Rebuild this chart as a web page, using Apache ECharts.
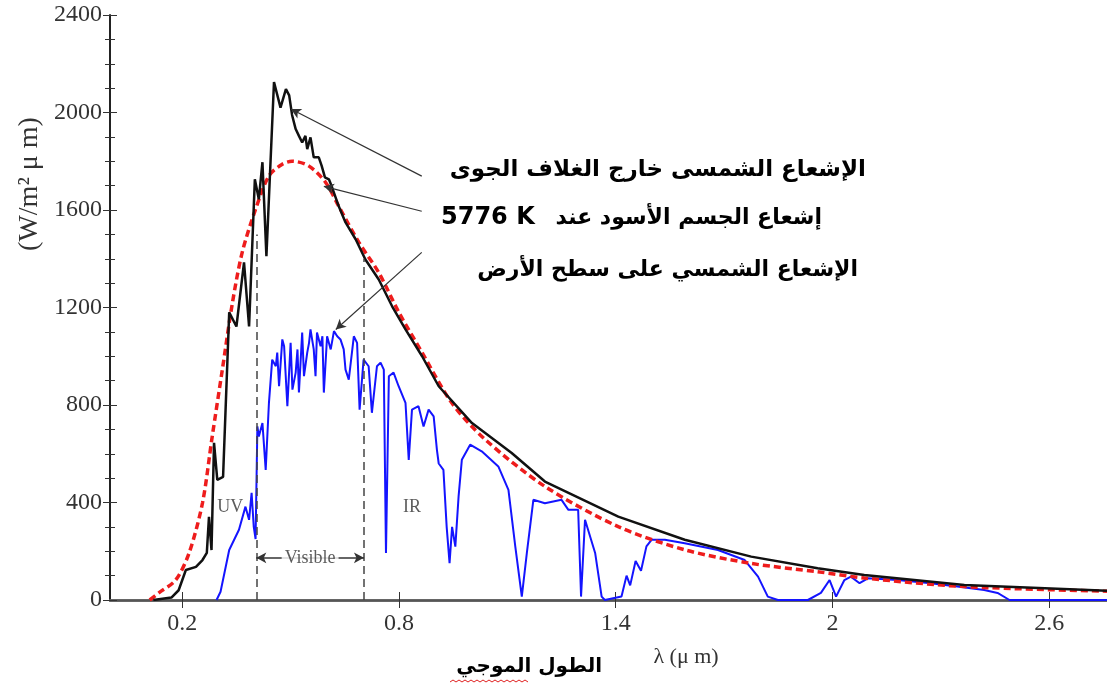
<!DOCTYPE html>
<html>
<head>
<meta charset="utf-8">
<script src="https://cdn.jsdelivr.net/npm/echarts@6/dist/echarts.min.js"></script>
<style>
  html, body { margin: 0; padding: 0; background: #fff; }
  #myChart { width: 1107px; height: 684px; }
</style>
</head>
<body>
<div id="myChart"></div>
<script>
// tick labels
var xTicks = [0.2, 0.8, 1.4, 2, 2.6];

// solar irradiance outside the atmosphere [λ µm, W/m² µm]
var extraterrestrial = [
  [0.12, 0], [0.17, 10], [0.19, 40], [0.21, 123], [0.238, 136], [0.256, 164], [0.268, 193],
  [0.274, 341], [0.281, 205], [0.288, 645], [0.297, 493], [0.313, 505], [0.33, 1180],
  [0.35, 1122], [0.371, 1385], [0.385, 1122], [0.401, 1726], [0.412, 1644], [0.422, 1796],
  [0.433, 1410], [0.454, 2125], [0.472, 2020], [0.487, 2096], [0.496, 2070], [0.504, 1990],
  [0.514, 1932], [0.523, 1904], [0.532, 1877], [0.541, 1904], [0.546, 1850], [0.555, 1898],
  [0.564, 1816], [0.578, 1816], [0.586, 1781], [0.595, 1734], [0.606, 1726], [0.615, 1692],
  [0.633, 1616], [0.652, 1549], [0.68, 1480], [0.707, 1397], [0.744, 1315], [0.781, 1205],
  [0.818, 1110], [0.864, 1000], [0.91, 877], [1.002, 726], [1.112, 603], [1.204, 486],
  [1.407, 342], [1.591, 247], [1.775, 178], [1.959, 130], [2.088, 103], [2.365, 62], [2.76, 38]
];

// black body at 5776 K
var blackbody = [
  [0.11, 0], [0.136, 30], [0.182, 82], [0.219, 193], [0.256, 398], [0.283, 671], [0.311, 945],
  [0.339, 1220], [0.366, 1426], [0.403, 1603], [0.44, 1740], [0.477, 1788], [0.504, 1800],
  [0.55, 1781], [0.597, 1713], [0.633, 1616], [0.689, 1467], [0.744, 1343], [0.8, 1179],
  [0.864, 1015], [0.946, 809], [1.039, 658], [1.204, 466], [1.407, 301], [1.591, 206],
  [1.775, 150], [1.959, 116], [2.088, 90], [2.365, 55], [2.76, 36]
];

// solar irradiance at the surface
var surface = [
  [0.295, 0], [0.306, 34], [0.33, 205], [0.357, 288], [0.375, 383], [0.385, 329], [0.392, 440],
  [0.398, 300], [0.403, 250], [0.408, 712], [0.412, 671], [0.422, 726], [0.431, 534],
  [0.44, 809], [0.449, 986], [0.459, 959], [0.463, 1015], [0.468, 877], [0.477, 1069],
  [0.482, 1041], [0.491, 795], [0.5, 1055], [0.505, 863], [0.514, 933], [0.519, 1028],
  [0.523, 851], [0.532, 1097], [0.537, 918], [0.546, 1015], [0.551, 1055], [0.555, 1110],
  [0.564, 1028], [0.569, 918], [0.573, 1097], [0.583, 1041], [0.588, 1082], [0.592, 851],
  [0.601, 1082], [0.611, 1028], [0.62, 1103], [0.629, 1082], [0.638, 1069], [0.647, 1028],
  [0.652, 945], [0.661, 904], [0.675, 1082], [0.684, 1055], [0.691, 781], [0.702, 986],
  [0.716, 959], [0.725, 768], [0.739, 959], [0.749, 974], [0.758, 945], [0.764, 193],
  [0.772, 918], [0.785, 933], [0.799, 877], [0.818, 809], [0.827, 575], [0.836, 781],
  [0.854, 795], [0.868, 712], [0.882, 781], [0.896, 753], [0.905, 616], [0.91, 560],
  [0.923, 534], [0.932, 300], [0.94, 151], [0.947, 300], [0.956, 219], [0.965, 425],
  [0.974, 575], [0.997, 637], [1.029, 610], [1.075, 548], [1.103, 452], [1.122, 219],
  [1.14, 14], [1.154, 193], [1.172, 411], [1.204, 397], [1.25, 411], [1.269, 370],
  [1.296, 370], [1.304, 14], [1.315, 329], [1.343, 193], [1.361, 14], [1.37, 0], [1.416, 14],
  [1.43, 100], [1.44, 60], [1.455, 160], [1.47, 120], [1.485, 220], [1.499, 247],
  [1.536, 247], [1.591, 233], [1.683, 205], [1.757, 164], [1.794, 96], [1.821, 14],
  [1.849, 0], [1.932, 0], [1.968, 29], [1.992, 82], [2.01, 14], [2.033, 82], [2.051, 96],
  [2.075, 69], [2.098, 89], [2.18, 82], [2.272, 69], [2.346, 55], [2.42, 41], [2.457, 29],
  [2.49, 0], [2.76, 0]
];

// visible band limits
var visibleBand = [0.405, 0.703];

var serif = 'Liberation Serif';

var myChart = echarts.init(document.getElementById('myChart'));

myChart.setOption({
  animation: false,
  backgroundColor: '#fff',
  grid: { left: 110, right: -2, top: 15, bottom: 84 },
  xAxis: [
    {
      type: 'value', min: 0, max: 2.76, position: 'bottom',
      axisLine: { lineStyle: { color: '#777', width: 2.5 } },
      axisTick: { inside: true, length: 8, customValues: xTicks, lineStyle: { color: '#333' } },
      axisLabel: {
        customValues: xTicks, margin: 12, fontFamily: serif, fontSize: 24, color: '#333',
        formatter: function (v) { return String(v); }
      },
      splitLine: { show: false }
    },
    {
      type: 'value', min: 0, max: 2.76, position: 'top',
      axisLine: { lineStyle: { color: '#555', width: 2.5 } },
      axisTick: { inside: true, length: 8, customValues: xTicks, lineStyle: { color: '#333' } },
      axisLabel: { show: false },
      splitLine: { show: false }
    }
  ],
  yAxis: [
    {
      type: 'value', min: 0, max: 2400, interval: 400, position: 'left',
      axisLine: { show: true, lineStyle: { color: '#222', width: 2 } },
      axisTick: { inside: true, length: 7, lineStyle: { color: '#333' } },
      minorTick: { show: true, splitNumber: 4, length: 5, lineStyle: { color: '#333' } },
      axisLabel: {
        margin: 8, fontFamily: serif, fontSize: 24, color: '#333',
        formatter: function (v) { return String(v); }
      },
      splitLine: { show: false }
    },
    {
      type: 'value', min: 0, max: 2400, interval: 400, position: 'right',
      axisLine: { show: false },
      axisTick: { inside: true, length: 7, lineStyle: { color: '#333' } },
      minorTick: { show: true, splitNumber: 4, length: 5, lineStyle: { color: '#333' } },
      axisLabel: { show: false },
      splitLine: { show: false }
    }
  ],
  series: [
    {
      name: 'surface', type: 'line', data: surface, showSymbol: false, z: 2,
      lineStyle: { color: '#1414ff', width: 2 }
    },
    {
      name: 'blackbody', type: 'line', data: blackbody, showSymbol: false, smooth: 0.3, z: 3,
      lineStyle: { color: '#ee1c1c', width: 3.5, type: [7, 4] }
    },
    {
      name: 'extraterrestrial', type: 'line', data: extraterrestrial, showSymbol: false, z: 4,
      lineStyle: { color: '#111', width: 2.5 }
    },
    {
      // annotation arrows and band limits
      name: 'notes', type: 'line', data: [], z: 5,
      markLine: {
        silent: true,
        label: { show: false },
        data: [
          [{ coord: [0.501, 2014], symbol: 'arrow', lineStyle: { color: '#333', width: 1.2, type: 'solid' } }, { coord: [0.863, 1739], symbol: 'none' }],
          [{ coord: [0.592, 1697], symbol: 'arrow', lineStyle: { color: '#333', width: 1.2, type: 'solid' } }, { coord: [0.863, 1595], symbol: 'none' }],
          [{ coord: [0.625, 1110], symbol: 'arrow', lineStyle: { color: '#333', width: 1.2, type: 'solid' } }, { coord: [0.863, 1426], symbol: 'none' }],
          [{ coord: [visibleBand[0], 0], symbol: 'none', lineStyle: { color: '#444', width: 1.5, type: [8, 5] } }, { coord: [visibleBand[0], 1500], symbol: 'none' }],
          [{ coord: [visibleBand[1], 0], symbol: 'none', lineStyle: { color: '#444', width: 1.5, type: [8, 5] } }, { coord: [visibleBand[1], 1400], symbol: 'none' }],
          [{ coord: [visibleBand[0], 173], symbol: 'arrow', lineStyle: { color: '#333', width: 1.5, type: 'solid' } }, { coord: [visibleBand[1], 173], symbol: 'arrow' }]
        ],
        symbolSize: [8, 10]
      }
    },
    {
      name: 'labels', type: 'scatter', symbolSize: 0, z: 6,
      data: [
        { value: [0.554, 173], name: 'Visible', label: { backgroundColor: '#fff', padding: [1, 3] } },
        { value: [0.333, 382], name: 'UV' },
        { value: [0.836, 382], name: 'IR' }
      ],
      label: {
        show: true, position: 'inside', formatter: '{b}',
        fontFamily: serif, fontSize: 18, color: '#333'
      }
    }
  ],
  graphic: [
    {
      type: 'text', x: 30, y: 184, rotation: Math.PI / 2,
      style: { text: '(W/m² μ m)', font: '28px "Liberation Serif"', fill: '#333', align: 'center', verticalAlign: 'middle' }
    },
    {
      type: 'text', x: 686, y: 657,
      style: { text: 'λ (μ m)', font: '22px "Liberation Serif"', fill: '#333', align: 'center', verticalAlign: 'middle' }
    },
    {
      type: 'text', x: 602, y: 667,
      style: { text: 'الطول الموجي', font: 'bold 20px "DejaVu Sans"', fill: '#000', align: 'right', verticalAlign: 'middle' }
    },
    {
      type: 'polyline', shape: { points: [[450, 682], [453, 680], [456, 682], [459, 680], [462, 682], [465, 680], [468, 682], [471, 680], [474, 682], [477, 680], [480, 682], [483, 680], [486, 682], [489, 680], [492, 682], [495, 680], [498, 682], [501, 680], [504, 682], [507, 680], [510, 682], [513, 680], [516, 682], [519, 680], [522, 682], [525, 680], [528, 682]] },
      style: { stroke: '#e02020', lineWidth: 1, fill: null }
    },
    {
      type: 'text', x: 866, y: 170,
      style: { text: 'الإشعاع الشمسى خارج الغلاف الجوى', font: 'bold 23px "DejaVu Sans"', fill: '#000', align: 'right', verticalAlign: 'middle' }
    },
    {
      type: 'text', x: 822, y: 218,
      style: { text: 'إشعاع الجسم الأسود عند', font: 'bold 22px "DejaVu Sans"', fill: '#000', align: 'right', verticalAlign: 'middle' }
    },
    {
      type: 'text', x: 441, y: 218,
      style: { text: '5776 K', font: 'bold 24px "DejaVu Sans"', fill: '#000', align: 'left', verticalAlign: 'middle' }
    },
    {
      type: 'text', x: 858, y: 270,
      style: { text: 'الإشعاع الشمسي على سطح الأرض', font: 'bold 22px "DejaVu Sans"', fill: '#000', align: 'right', verticalAlign: 'middle' }
    }
  ]
});
</script>
</body>
</html>
